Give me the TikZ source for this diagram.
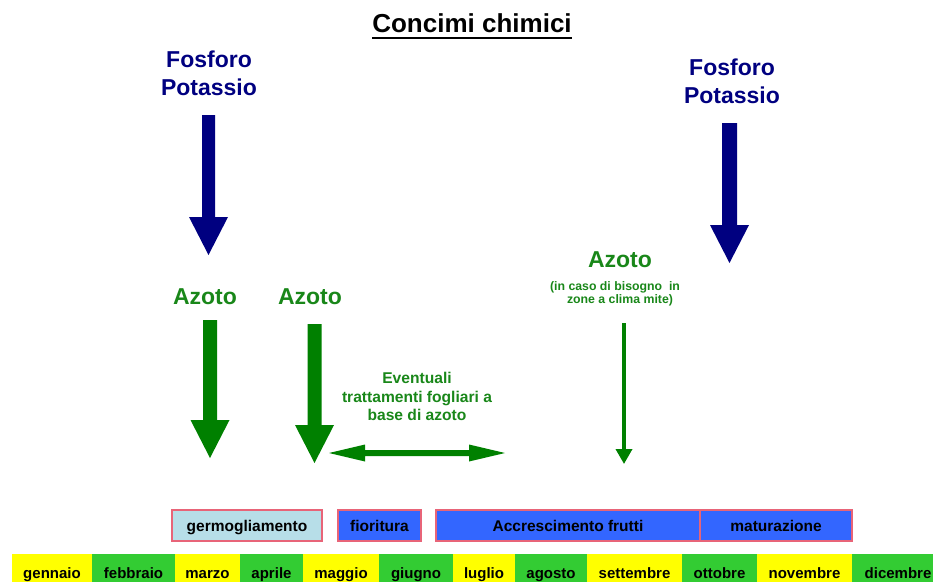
\documentclass[tikz,border=0pt]{standalone}
\usepackage{fontspec}
\setmainfont{Liberation Sans}
\usetikzlibrary{arrows.meta}
\definecolor{navyc}{RGB}{0,0,128}
\definecolor{greenc}{RGB}{0,128,0}
\definecolor{txtgreen}{RGB}{25,135,25}
\definecolor{monyel}{RGB}{255,255,0}
\definecolor{mongrn}{RGB}{51,204,51}
\definecolor{boxblue}{RGB}{51,102,255}
\definecolor{boxlight}{RGB}{183,222,232}
\definecolor{boxedge}{RGB}{232,100,120}
\newcommand\blockarr[7]{%
  \fill[#1] (#2-#6,#3) -- (#2+#6,#3) -- (#2+#6,#4) -- (#2+#7,#4) -- (#2,#5) -- (#2-#7,#4) -- (#2-#6,#4) -- cycle;}
\tikzset{
  big/.style={font=\bfseries\fontsize{23}{28}\selectfont, inner sep=0pt, anchor=base},
  bignavy/.style={big, text=navyc},
  biggreen/.style={big, text=txtgreen},
  smallgreen/.style={font=\bfseries\fontsize{12.3}{14}\selectfont, text=txtgreen, inner sep=0pt, anchor=base},
  midgreen/.style={font=\bfseries\fontsize{15.6}{18}\selectfont, text=txtgreen, inner sep=0pt, anchor=base},
  phase/.style={draw=boxedge, line width=1.2pt, minimum height=31pt, inner sep=0pt,
    text height=11pt, text depth=0pt,
    font=\bfseries\fontsize{15.5}{18}\selectfont, text=black},
  month/.style={minimum height=40pt, inner sep=0pt, text height=11pt, text depth=3pt,
    font=\bfseries\fontsize{15}{18}\selectfont, text=black},
}
\begin{document}
\begin{tikzpicture}[x=1pt,y=-1pt]
\useasboundingbox (0,0) rectangle (933,581);
\clip (0,0) rectangle (933,581);
% title
\node[font=\bfseries\fontsize{26}{30}\selectfont, inner sep=0pt, anchor=base] (title) at (472,32) {Concimi chimici};
\draw[line width=2.4pt] ([yshift=-6pt]title.base west) -- ([yshift=-6pt]title.base east);
% Fosforo Potassio
\node[bignavy] (fl1) at (209,67) {Fosforo};
\node[bignavy] (fl2) at (209,95) {Potassio};
\node[bignavy] (fr1) at (732,75) {Fosforo};
\node[bignavy] (fr2) at (732,103) {Potassio};
\blockarr{navyc}{208.5}{115}{217}{255}{6.5}{19.5}
\blockarr{navyc}{729.5}{123}{225}{263}{7.5}{19.5}
% Azoto
\node[biggreen] (az1) at (205,304) {Azoto};
\node[biggreen] (az2) at (310,304) {Azoto};
\node[biggreen] (az3) at (620,267) {Azoto};
\node[smallgreen] (az3a) at (615,290) {(in caso di bisogno\ \ in};
\node[smallgreen] (az3b) at (620,303) {zone a clima mite)};
\blockarr{greenc}{210}{320}{420}{458}{7}{19.5}
\blockarr{greenc}{314.5}{324}{425}{463}{7}{19.5}
\coordinate (t1) at (624,323);
\coordinate (t2) at (624,464);
\draw[greenc, line width=3.5pt, -{Triangle[width=16pt,length=15pt]}] (t1) -- (t2);
% eventuali
\node[midgreen] (ev1) at (417,383) {Eventuali};
\node[midgreen] (ev2) at (417,402) {trattamenti\ fogliari\ a};
\node[midgreen] (ev3) at (417,420) {base di azoto};
\fill[greenc] (329,453) -- (365,444.5) -- (365,450) -- (469,450) -- (469,444.5) -- (505,453)
  -- (469,461.5) -- (469,456) -- (365,456) -- (365,461.5) -- cycle;
% phases
\node[phase, fill=boxlight, minimum width=150pt] (germ) at (247,525.5) {germogliamento};
\node[phase, fill=boxblue, minimum width=83pt] (fior) at (379.5,525.5) {fioritura};
\node[phase, fill=boxblue, minimum width=264pt] (accr) at (568,525.5) {Accrescimento frutti};
\node[phase, fill=boxblue, minimum width=152pt] (mat) at (776,525.5) {maturazione};
% months
\node[month, fill=monyel, minimum width=80pt] (m1) at (52,574) {gennaio};
\node[month, fill=mongrn, minimum width=83pt] (m2) at (133.5,574) {febbraio};
\node[month, fill=monyel, minimum width=65pt] (m3) at (207.5,574) {marzo};
\node[month, fill=mongrn, minimum width=63pt] (m4) at (271.5,574) {aprile};
\node[month, fill=monyel, minimum width=76pt] (m5) at (341,574) {maggio};
\node[month, fill=mongrn, minimum width=74pt] (m6) at (416,574) {giugno};
\node[month, fill=monyel, minimum width=62pt] (m7) at (484,574) {luglio};
\node[month, fill=mongrn, minimum width=72pt] (m8) at (551,574) {agosto};
\node[month, fill=monyel, minimum width=95pt] (m9) at (634.5,574) {settembre};
\node[month, fill=mongrn, minimum width=75pt] (m10) at (719.5,574) {ottobre};
\node[month, fill=monyel, minimum width=95pt] (m11) at (804.5,574) {novembre};
\node[month, fill=mongrn, minimum width=92pt] (m12) at (898,574) {dicembre};
\end{tikzpicture}
\end{document}
